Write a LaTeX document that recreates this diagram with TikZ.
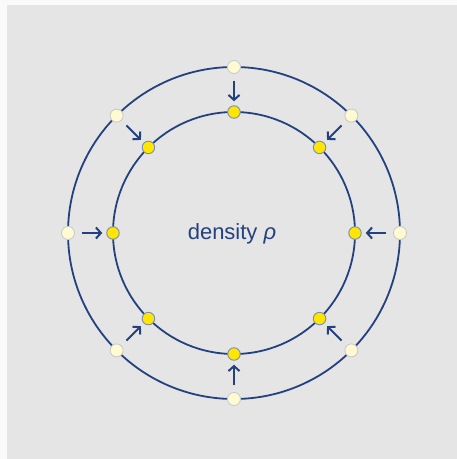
\documentclass[tikz,border=0pt]{standalone}
\usepackage{fontspec}
\setmainfont{Liberation Sans}
\usetikzlibrary{arrows.meta}
\definecolor{Ring}{HTML}{24417F}
\definecolor{Bg}{HTML}{E5E5E5}
\definecolor{Sun}{HTML}{FFE600}
\definecolor{Pale}{HTML}{FFFAD2}

\begin{document}
\begin{tikzpicture}[x=1pt,y=1pt,
    ringstyle/.style={draw=Ring,line width=1.8pt},
    outerdot/.style={circle,fill=Pale,draw=black!22,line width=.8pt,minimum size=13pt,inner sep=0pt},
    innerdot/.style={circle,fill=Sun,draw=Ring!60,line width=.9pt,minimum size=12.5pt,inner sep=0pt},
    pusharrow/.style={draw=Ring,line width=2pt,-{Straight Barb[length=5pt,width=11pt]},shorten <=7pt,shorten >=4pt}]
    \useasboundingbox[fill=black!2] (-234,-226) rectangle (223,233);
    \fill[Bg] (-227,-226) rectangle (223,228);
    \draw[ringstyle] (0,0) circle[radius=166];
    \draw[ringstyle] (0,0) circle[radius=121];
    \foreach \a in {0,45,...,315}{
      \node[outerdot] (out\a) at (\a:166) {};
      \node[innerdot] (in\a) at (\a:121) {};
      \draw[pusharrow] (out\a) -- (in\a);
    }
    \node[text=Ring,font=\fontsize{22}{26}\selectfont] (label) at (-2,-1) {density \textit{ρ}};
  \end{tikzpicture}
\end{document}
